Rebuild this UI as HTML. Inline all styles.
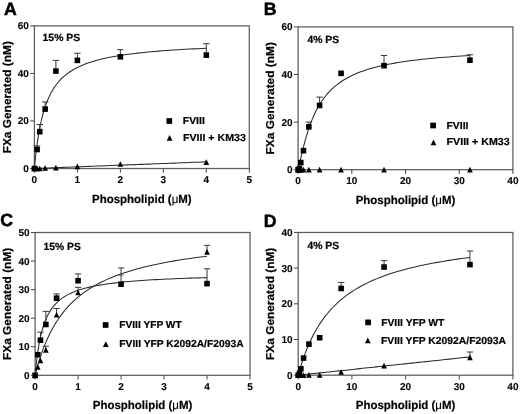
<!DOCTYPE html>
<html><head><meta charset="utf-8"><title>Figure</title>
<style>
html,body{margin:0;padding:0;background:#fff;}
svg{display:block;}
text{font-family:"Liberation Sans",Arial,sans-serif;font-weight:bold;fill:#000;stroke:#000;stroke-width:0.2px;text-rendering:geometricPrecision;}
.tk{font-size:10.0px;stroke-width:0.1px;}
.ax{font-size:11.5px;}
.ax2{font-size:11.7px;}
.pl{font-size:17.7px;stroke-width:0.5px;}
.tt{font-size:10.4px;}
.lg{font-size:10.2px;}
.mu{font-weight:normal;stroke-width:0.15px;}
</style></head>
<body>
<svg width="520" height="414" viewBox="0 0 520 414">
<rect width="520" height="414" fill="#fff"/>
<g>
<rect x="34.40" y="25.90" width="214.90" height="142.60" fill="none" stroke="#5c5c5c" stroke-width="1.25"/>
<line x1="34.40" y1="168.50" x2="34.40" y2="172.70" stroke="#444" stroke-width="1"/>
<text x="34.40" y="183.10" class="tk" text-anchor="middle">0</text>
<line x1="77.38" y1="168.50" x2="77.38" y2="172.70" stroke="#444" stroke-width="1"/>
<text x="77.38" y="183.10" class="tk" text-anchor="middle">1</text>
<line x1="120.36" y1="168.50" x2="120.36" y2="172.70" stroke="#444" stroke-width="1"/>
<text x="120.36" y="183.10" class="tk" text-anchor="middle">2</text>
<line x1="163.34" y1="168.50" x2="163.34" y2="172.70" stroke="#444" stroke-width="1"/>
<text x="163.34" y="183.10" class="tk" text-anchor="middle">3</text>
<line x1="206.32" y1="168.50" x2="206.32" y2="172.70" stroke="#444" stroke-width="1"/>
<text x="206.32" y="183.10" class="tk" text-anchor="middle">4</text>
<line x1="249.30" y1="168.50" x2="249.30" y2="172.70" stroke="#444" stroke-width="1"/>
<text x="249.30" y="183.10" class="tk" text-anchor="middle">5</text>
<line x1="30.20" y1="168.50" x2="34.40" y2="168.50" stroke="#444" stroke-width="1"/>
<text x="28.80" y="172.00" class="tk" text-anchor="end">0</text>
<line x1="30.20" y1="120.97" x2="34.40" y2="120.97" stroke="#444" stroke-width="1"/>
<text x="28.80" y="124.47" class="tk" text-anchor="end">20</text>
<line x1="30.20" y1="73.43" x2="34.40" y2="73.43" stroke="#444" stroke-width="1"/>
<text x="28.80" y="76.93" class="tk" text-anchor="end">40</text>
<line x1="30.20" y1="25.90" x2="34.40" y2="25.90" stroke="#444" stroke-width="1"/>
<text x="28.80" y="29.40" class="tk" text-anchor="end">60</text>
<text x="4" y="15.4" class="pl">A</text>
<text x="42.6" y="41.3" class="tt" textLength="37.5" lengthAdjust="spacingAndGlyphs">15% PS</text>
<text transform="translate(11.2,97.20) rotate(-90)" class="ax" text-anchor="middle" textLength="112.3" lengthAdjust="spacingAndGlyphs">FXa Generated (nM)</text>
<text x="141.85" y="202.5" class="ax2" text-anchor="middle" textLength="99.6" lengthAdjust="spacingAndGlyphs">Phospholipid (<tspan class="mu">μ</tspan>M)</text>
<polyline points="34.40,168.50 34.43,168.20 34.51,167.32 34.64,165.88 34.83,163.92 35.07,161.48 35.37,158.63 35.72,155.43 36.12,151.94 36.58,148.24 37.09,144.38 37.65,140.42 38.27,136.42 38.94,132.41 39.67,128.44 40.44,124.55 41.28,120.75 42.16,117.06 43.10,113.50 44.10,110.08 45.14,106.80 46.25,103.67 47.40,100.69 48.61,97.85 49.87,95.16 51.19,92.61 52.56,90.20 53.98,87.91 55.46,85.75 56.99,83.71 58.58,81.78 60.21,79.96 61.91,78.24 63.65,76.61 65.45,75.07 67.31,73.62 69.21,72.25 71.17,70.94 73.19,69.71 75.26,68.55 77.38,67.44 79.56,66.40 81.79,65.41 84.07,64.47 86.41,63.57 88.80,62.73 91.24,61.92 93.74,61.15 96.29,60.42 98.90,59.73 101.56,59.07 104.27,58.44 107.04,57.84 109.86,57.27 112.73,56.72 115.66,56.20 118.64,55.70 121.68,55.22 124.77,54.77 127.91,54.33 131.11,53.91 134.36,53.51 137.66,53.13 141.02,52.76 144.43,52.40 147.89,52.07 151.41,51.74 154.99,51.43 158.61,51.13 162.29,50.84 166.03,50.56 169.81,50.29 173.66,50.03 177.55,49.78 181.50,49.54 185.50,49.31 189.56,49.09 193.67,48.88 197.83,48.67 202.05,48.47 206.32,48.28" fill="none" stroke="#2a2a2a" stroke-width="1.05"/>
<line x1="37.09" y1="149.49" x2="37.09" y2="145.92" stroke="#383838" stroke-width="1"/>
<line x1="33.89" y1="145.92" x2="40.29" y2="145.92" stroke="#383838" stroke-width="1"/>
<line x1="39.77" y1="131.66" x2="39.77" y2="124.53" stroke="#383838" stroke-width="1"/>
<line x1="36.57" y1="124.53" x2="42.97" y2="124.53" stroke="#383838" stroke-width="1"/>
<line x1="45.14" y1="109.08" x2="45.14" y2="101.95" stroke="#383838" stroke-width="1"/>
<line x1="41.94" y1="101.95" x2="48.34" y2="101.95" stroke="#383838" stroke-width="1"/>
<line x1="55.89" y1="71.06" x2="55.89" y2="60.36" stroke="#383838" stroke-width="1"/>
<line x1="52.69" y1="60.36" x2="59.09" y2="60.36" stroke="#383838" stroke-width="1"/>
<line x1="77.38" y1="60.36" x2="77.38" y2="53.23" stroke="#383838" stroke-width="1"/>
<line x1="74.18" y1="53.23" x2="80.58" y2="53.23" stroke="#383838" stroke-width="1"/>
<line x1="120.36" y1="56.80" x2="120.36" y2="49.67" stroke="#383838" stroke-width="1"/>
<line x1="117.16" y1="49.67" x2="123.56" y2="49.67" stroke="#383838" stroke-width="1"/>
<line x1="206.32" y1="55.13" x2="206.32" y2="43.73" stroke="#383838" stroke-width="1"/>
<line x1="203.12" y1="43.73" x2="209.52" y2="43.73" stroke="#383838" stroke-width="1"/>
<rect x="31.60" y="165.70" width="5.60" height="5.60" fill="#000"/>
<rect x="34.29" y="146.69" width="5.60" height="5.60" fill="#000"/>
<rect x="36.97" y="128.86" width="5.60" height="5.60" fill="#000"/>
<rect x="42.34" y="106.28" width="5.60" height="5.60" fill="#000"/>
<rect x="53.09" y="68.26" width="5.60" height="5.60" fill="#000"/>
<rect x="74.58" y="57.56" width="5.60" height="5.60" fill="#000"/>
<rect x="117.56" y="54.00" width="5.60" height="5.60" fill="#000"/>
<rect x="203.52" y="52.33" width="5.60" height="5.60" fill="#000"/>
<polyline points="34.40,168.50 34.43,168.50 34.51,168.50 34.64,168.49 34.83,168.48 35.07,168.47 35.37,168.46 35.72,168.45 36.12,168.43 36.58,168.42 37.09,168.40 37.65,168.37 38.27,168.35 38.94,168.32 39.67,168.30 40.44,168.27 41.28,168.23 42.16,168.20 43.10,168.16 44.10,168.12 45.14,168.08 46.25,168.04 47.40,168.00 48.61,167.95 49.87,167.90 51.19,167.85 52.56,167.80 53.98,167.74 55.46,167.68 56.99,167.63 58.58,167.56 60.21,167.50 61.91,167.44 63.65,167.37 65.45,167.30 67.31,167.23 69.21,167.15 71.17,167.08 73.19,167.00 75.26,166.92 77.38,166.84 79.56,166.75 81.79,166.67 84.07,166.58 86.41,166.49 88.80,166.39 91.24,166.30 93.74,166.20 96.29,166.10 98.90,166.00 101.56,165.90 104.27,165.80 107.04,165.69 109.86,165.58 112.73,165.47 115.66,165.35 118.64,165.24 121.68,165.12 124.77,165.00 127.91,164.88 131.11,164.76 134.36,164.63 137.66,164.50 141.02,164.37 144.43,164.24 147.89,164.11 151.41,163.97 154.99,163.83 158.61,163.69 162.29,163.55 166.03,163.41 169.81,163.26 173.66,163.11 177.55,162.96 181.50,162.81 185.50,162.65 189.56,162.49 193.67,162.34 197.83,162.17 202.05,162.01 206.32,161.85" fill="none" stroke="#2a2a2a" stroke-width="1.05"/>
<polygon points="34.40,165.65 31.55,171.35 37.25,171.35" fill="#000"/>
<polygon points="37.09,165.65 34.24,171.35 39.94,171.35" fill="#000"/>
<polygon points="39.77,165.65 36.92,171.35 42.62,171.35" fill="#000"/>
<polygon points="45.14,164.94 42.29,170.64 47.99,170.64" fill="#000"/>
<polygon points="55.89,164.70 53.04,170.40 58.74,170.40" fill="#000"/>
<polygon points="77.38,163.51 74.53,169.21 80.23,169.21" fill="#000"/>
<polygon points="120.36,161.13 117.51,166.83 123.21,166.83" fill="#000"/>
<polygon points="206.32,159.23 203.47,164.93 209.17,164.93" fill="#000"/>
<rect x="166.45" y="118.15" width="5.70" height="5.70" fill="#000"/>
<text x="182.8" y="124.4" class="lg" textLength="22.0" lengthAdjust="spacingAndGlyphs">FVIII</text>
<polygon points="169.60,134.90 166.70,140.70 172.50,140.70" fill="#000"/>
<text x="182.9" y="140.5" class="lg" textLength="63.0" lengthAdjust="spacingAndGlyphs">FVIII + KM33</text>
</g>
<g>
<rect x="298.10" y="26.90" width="214.80" height="142.80" fill="none" stroke="#5c5c5c" stroke-width="1.25"/>
<line x1="298.10" y1="169.70" x2="298.10" y2="173.90" stroke="#444" stroke-width="1"/>
<text x="298.10" y="184.30" class="tk" text-anchor="middle">0</text>
<line x1="351.80" y1="169.70" x2="351.80" y2="173.90" stroke="#444" stroke-width="1"/>
<text x="351.80" y="184.30" class="tk" text-anchor="middle">10</text>
<line x1="405.50" y1="169.70" x2="405.50" y2="173.90" stroke="#444" stroke-width="1"/>
<text x="405.50" y="184.30" class="tk" text-anchor="middle">20</text>
<line x1="459.20" y1="169.70" x2="459.20" y2="173.90" stroke="#444" stroke-width="1"/>
<text x="459.20" y="184.30" class="tk" text-anchor="middle">30</text>
<line x1="512.90" y1="169.70" x2="512.90" y2="173.90" stroke="#444" stroke-width="1"/>
<text x="512.90" y="184.30" class="tk" text-anchor="middle">40</text>
<line x1="293.90" y1="169.70" x2="298.10" y2="169.70" stroke="#444" stroke-width="1"/>
<text x="292.50" y="173.20" class="tk" text-anchor="end">0</text>
<line x1="293.90" y1="122.10" x2="298.10" y2="122.10" stroke="#444" stroke-width="1"/>
<text x="292.50" y="125.60" class="tk" text-anchor="end">20</text>
<line x1="293.90" y1="74.50" x2="298.10" y2="74.50" stroke="#444" stroke-width="1"/>
<text x="292.50" y="78.00" class="tk" text-anchor="end">40</text>
<line x1="293.90" y1="26.90" x2="298.10" y2="26.90" stroke="#444" stroke-width="1"/>
<text x="292.50" y="30.40" class="tk" text-anchor="end">60</text>
<text x="263.7" y="15.4" class="pl">B</text>
<text x="307.5" y="42.7" class="tt" textLength="31.7" lengthAdjust="spacingAndGlyphs">4% PS</text>
<text transform="translate(273.5,98.30) rotate(-90)" class="ax" text-anchor="middle" textLength="112.3" lengthAdjust="spacingAndGlyphs">FXa Generated (nM)</text>
<text x="405.50" y="204.0" class="ax2" text-anchor="middle" textLength="99.6" lengthAdjust="spacingAndGlyphs">Phospholipid (<tspan class="mu">μ</tspan>M)</text>
<polyline points="298.10,169.70 298.13,169.64 298.21,169.39 298.34,168.92 298.53,168.19 298.77,167.19 299.07,165.93 299.42,164.39 299.82,162.60 300.27,160.55 300.79,158.27 301.35,155.79 301.97,153.12 302.64,150.29 303.36,147.34 304.14,144.28 304.97,141.16 305.86,137.98 306.80,134.78 307.79,131.59 308.84,128.41 309.94,125.27 311.10,122.18 312.30,119.16 313.57,116.21 314.88,113.35 316.25,110.57 317.67,107.89 319.15,105.31 320.68,102.83 322.27,100.45 323.90,98.16 325.59,95.98 327.34,93.89 329.14,91.89 330.99,89.99 332.90,88.17 334.86,86.44 336.87,84.80 338.94,83.23 341.06,81.73 343.23,80.31 345.46,78.96 347.75,77.67 350.08,76.45 352.47,75.28 354.91,74.17 357.41,73.11 359.96,72.11 362.57,71.15 365.23,70.23 367.94,69.36 370.70,68.53 373.52,67.74 376.39,66.98 379.32,66.26 382.30,65.58 385.34,64.92 388.42,64.29 391.56,63.69 394.76,63.12 398.01,62.57 401.31,62.04 404.67,61.54 408.08,61.06 411.54,60.60 415.06,60.15 418.63,59.73 422.25,59.32 425.93,58.93 429.66,58.56 433.45,58.20 437.29,57.85 441.18,57.52 445.13,57.20 449.13,56.90 453.19,56.60 457.29,56.32 461.46,56.04 465.67,55.78 469.94,55.53" fill="none" stroke="#2a2a2a" stroke-width="1.05"/>
<line x1="308.84" y1="126.86" x2="308.84" y2="122.10" stroke="#383838" stroke-width="1"/>
<line x1="305.64" y1="122.10" x2="312.04" y2="122.10" stroke="#383838" stroke-width="1"/>
<line x1="319.58" y1="105.44" x2="319.58" y2="97.11" stroke="#383838" stroke-width="1"/>
<line x1="316.38" y1="97.11" x2="322.78" y2="97.11" stroke="#383838" stroke-width="1"/>
<line x1="384.02" y1="65.69" x2="384.02" y2="55.46" stroke="#383838" stroke-width="1"/>
<line x1="380.82" y1="55.46" x2="387.22" y2="55.46" stroke="#383838" stroke-width="1"/>
<line x1="469.94" y1="60.22" x2="469.94" y2="54.75" stroke="#383838" stroke-width="1"/>
<line x1="466.74" y1="54.75" x2="473.14" y2="54.75" stroke="#383838" stroke-width="1"/>
<rect x="295.30" y="166.90" width="5.60" height="5.60" fill="#000"/>
<rect x="296.64" y="165.71" width="5.60" height="5.60" fill="#000"/>
<rect x="297.99" y="159.76" width="5.60" height="5.60" fill="#000"/>
<rect x="300.67" y="147.86" width="5.60" height="5.60" fill="#000"/>
<rect x="306.04" y="124.06" width="5.60" height="5.60" fill="#000"/>
<rect x="316.78" y="102.64" width="5.60" height="5.60" fill="#000"/>
<rect x="338.26" y="70.51" width="5.60" height="5.60" fill="#000"/>
<rect x="381.22" y="62.89" width="5.60" height="5.60" fill="#000"/>
<rect x="467.14" y="57.42" width="5.60" height="5.60" fill="#000"/>
<polygon points="298.10,166.85 295.25,172.55 300.95,172.55" fill="#000"/>
<polygon points="299.44,166.85 296.59,172.55 302.29,172.55" fill="#000"/>
<polygon points="300.79,166.85 297.94,172.55 303.64,172.55" fill="#000"/>
<polygon points="303.47,166.85 300.62,172.55 306.32,172.55" fill="#000"/>
<polygon points="308.84,166.85 305.99,172.55 311.69,172.55" fill="#000"/>
<polygon points="319.58,166.85 316.73,172.55 322.43,172.55" fill="#000"/>
<polygon points="341.06,166.85 338.21,172.55 343.91,172.55" fill="#000"/>
<polygon points="384.02,166.85 381.17,172.55 386.87,172.55" fill="#000"/>
<polygon points="469.94,166.85 467.09,172.55 472.79,172.55" fill="#000"/>
<rect x="430.25" y="122.65" width="5.70" height="5.70" fill="#000"/>
<text x="446.5" y="128.8" class="lg" textLength="22.0" lengthAdjust="spacingAndGlyphs">FVIII</text>
<polygon points="433.50,139.50 430.60,145.30 436.40,145.30" fill="#000"/>
<text x="446.6" y="145.3" class="lg" textLength="63.0" lengthAdjust="spacingAndGlyphs">FVIII + KM33</text>
</g>
<g>
<rect x="35.10" y="232.50" width="214.90" height="142.80" fill="none" stroke="#5c5c5c" stroke-width="1.25"/>
<line x1="35.10" y1="375.30" x2="35.10" y2="379.50" stroke="#444" stroke-width="1"/>
<text x="35.10" y="389.90" class="tk" text-anchor="middle">0</text>
<line x1="78.08" y1="375.30" x2="78.08" y2="379.50" stroke="#444" stroke-width="1"/>
<text x="78.08" y="389.90" class="tk" text-anchor="middle">1</text>
<line x1="121.06" y1="375.30" x2="121.06" y2="379.50" stroke="#444" stroke-width="1"/>
<text x="121.06" y="389.90" class="tk" text-anchor="middle">2</text>
<line x1="164.04" y1="375.30" x2="164.04" y2="379.50" stroke="#444" stroke-width="1"/>
<text x="164.04" y="389.90" class="tk" text-anchor="middle">3</text>
<line x1="207.02" y1="375.30" x2="207.02" y2="379.50" stroke="#444" stroke-width="1"/>
<text x="207.02" y="389.90" class="tk" text-anchor="middle">4</text>
<line x1="250.00" y1="375.30" x2="250.00" y2="379.50" stroke="#444" stroke-width="1"/>
<text x="250.00" y="389.90" class="tk" text-anchor="middle">5</text>
<line x1="30.90" y1="375.30" x2="35.10" y2="375.30" stroke="#444" stroke-width="1"/>
<text x="29.50" y="378.80" class="tk" text-anchor="end">0</text>
<line x1="30.90" y1="346.74" x2="35.10" y2="346.74" stroke="#444" stroke-width="1"/>
<text x="29.50" y="350.24" class="tk" text-anchor="end">10</text>
<line x1="30.90" y1="318.18" x2="35.10" y2="318.18" stroke="#444" stroke-width="1"/>
<text x="29.50" y="321.68" class="tk" text-anchor="end">20</text>
<line x1="30.90" y1="289.62" x2="35.10" y2="289.62" stroke="#444" stroke-width="1"/>
<text x="29.50" y="293.12" class="tk" text-anchor="end">30</text>
<line x1="30.90" y1="261.06" x2="35.10" y2="261.06" stroke="#444" stroke-width="1"/>
<text x="29.50" y="264.56" class="tk" text-anchor="end">40</text>
<line x1="30.90" y1="232.50" x2="35.10" y2="232.50" stroke="#444" stroke-width="1"/>
<text x="29.50" y="236.00" class="tk" text-anchor="end">50</text>
<text x="0.2" y="226.4" class="pl">C</text>
<text x="43.6" y="249.6" class="tt" textLength="37.2" lengthAdjust="spacingAndGlyphs">15% PS</text>
<text transform="translate(11.2,303.90) rotate(-90)" class="ax" text-anchor="middle" textLength="112.3" lengthAdjust="spacingAndGlyphs">FXa Generated (nM)</text>
<text x="142.55" y="409.3" class="ax2" text-anchor="middle" textLength="99.6" lengthAdjust="spacingAndGlyphs">Phospholipid (<tspan class="mu">μ</tspan>M)</text>
<polyline points="35.10,375.30 35.13,374.99 35.21,374.09 35.34,372.62 35.53,370.63 35.77,368.18 36.07,365.35 36.42,362.21 36.82,358.85 37.28,355.33 37.79,351.72 38.35,348.08 38.97,344.46 39.64,340.89 40.37,337.42 41.14,334.06 41.98,330.84 42.86,327.76 43.80,324.83 44.80,322.05 45.84,319.42 46.95,316.94 48.10,314.61 49.31,312.42 50.57,310.36 51.89,308.43 53.26,306.62 54.68,304.92 56.16,303.33 57.69,301.84 59.28,300.43 60.91,299.12 62.61,297.89 64.35,296.73 66.15,295.64 68.01,294.61 69.91,293.65 71.87,292.75 73.89,291.89 75.96,291.09 78.08,290.33 80.26,289.61 82.49,288.93 84.77,288.29 87.11,287.69 89.50,287.12 91.94,286.57 94.44,286.06 96.99,285.57 99.60,285.11 102.26,284.67 104.97,284.25 107.74,283.85 110.56,283.47 113.43,283.11 116.36,282.76 119.34,282.43 122.38,282.12 125.47,281.82 128.61,281.53 131.81,281.26 135.06,281.00 138.36,280.75 141.72,280.51 145.13,280.28 148.59,280.06 152.11,279.85 155.69,279.64 159.31,279.45 162.99,279.26 166.73,279.08 170.51,278.91 174.36,278.74 178.25,278.58 182.20,278.43 186.20,278.28 190.26,278.14 194.37,278.00 198.53,277.87 202.75,277.74 207.02,277.61" fill="none" stroke="#2a2a2a" stroke-width="1.05"/>
<line x1="40.47" y1="340.17" x2="40.47" y2="332.17" stroke="#383838" stroke-width="1"/>
<line x1="37.27" y1="332.17" x2="43.67" y2="332.17" stroke="#383838" stroke-width="1"/>
<line x1="45.84" y1="324.46" x2="45.84" y2="311.33" stroke="#383838" stroke-width="1"/>
<line x1="42.64" y1="311.33" x2="49.05" y2="311.33" stroke="#383838" stroke-width="1"/>
<line x1="56.59" y1="298.19" x2="56.59" y2="293.90" stroke="#383838" stroke-width="1"/>
<line x1="53.39" y1="293.90" x2="59.79" y2="293.90" stroke="#383838" stroke-width="1"/>
<line x1="78.08" y1="280.77" x2="78.08" y2="273.91" stroke="#383838" stroke-width="1"/>
<line x1="74.88" y1="273.91" x2="81.28" y2="273.91" stroke="#383838" stroke-width="1"/>
<line x1="121.06" y1="284.19" x2="121.06" y2="267.91" stroke="#383838" stroke-width="1"/>
<line x1="117.86" y1="267.91" x2="124.26" y2="267.91" stroke="#383838" stroke-width="1"/>
<line x1="207.02" y1="283.62" x2="207.02" y2="268.77" stroke="#383838" stroke-width="1"/>
<line x1="203.82" y1="268.77" x2="210.22" y2="268.77" stroke="#383838" stroke-width="1"/>
<rect x="32.30" y="372.50" width="5.60" height="5.60" fill="#000"/>
<rect x="34.99" y="351.94" width="5.60" height="5.60" fill="#000"/>
<rect x="37.67" y="337.37" width="5.60" height="5.60" fill="#000"/>
<rect x="43.05" y="321.66" width="5.60" height="5.60" fill="#000"/>
<rect x="53.79" y="295.39" width="5.60" height="5.60" fill="#000"/>
<rect x="75.28" y="277.97" width="5.60" height="5.60" fill="#000"/>
<rect x="118.26" y="281.39" width="5.60" height="5.60" fill="#000"/>
<rect x="204.22" y="280.82" width="5.60" height="5.60" fill="#000"/>
<polyline points="35.10,375.30 35.13,375.19 35.21,374.87 35.34,374.35 35.53,373.61 35.77,372.68 36.07,371.55 36.42,370.25 36.82,368.77 37.28,367.14 37.79,365.36 38.35,363.44 38.97,361.40 39.64,359.26 40.37,357.02 41.14,354.70 41.98,352.32 42.86,349.87 43.80,347.39 44.80,344.88 45.84,342.34 46.95,339.79 48.10,337.25 49.31,334.70 50.57,332.18 51.89,329.67 53.26,327.19 54.68,324.74 56.16,322.32 57.69,319.95 59.28,317.62 60.91,315.33 62.61,313.10 64.35,310.91 66.15,308.78 68.01,306.70 69.91,304.67 71.87,302.69 73.89,300.77 75.96,298.90 78.08,297.09 80.26,295.32 82.49,293.61 84.77,291.95 87.11,290.34 89.50,288.77 91.94,287.26 94.44,285.79 96.99,284.37 99.60,282.99 102.26,281.66 104.97,280.36 107.74,279.11 110.56,277.90 113.43,276.72 116.36,275.59 119.34,274.48 122.38,273.42 125.47,272.38 128.61,271.38 131.81,270.42 135.06,269.48 138.36,268.57 141.72,267.69 145.13,266.83 148.59,266.01 152.11,265.20 155.69,264.43 159.31,263.67 162.99,262.94 166.73,262.23 170.51,261.55 174.36,260.88 178.25,260.23 182.20,259.60 186.20,258.99 190.26,258.40 194.37,257.83 198.53,257.27 202.75,256.73 207.02,256.20" fill="none" stroke="#2a2a2a" stroke-width="1.05"/>
<line x1="45.84" y1="349.88" x2="45.84" y2="346.17" stroke="#383838" stroke-width="1"/>
<line x1="42.64" y1="346.17" x2="49.05" y2="346.17" stroke="#383838" stroke-width="1"/>
<line x1="56.59" y1="314.75" x2="56.59" y2="308.47" stroke="#383838" stroke-width="1"/>
<line x1="53.39" y1="308.47" x2="59.79" y2="308.47" stroke="#383838" stroke-width="1"/>
<line x1="78.08" y1="292.48" x2="78.08" y2="287.34" stroke="#383838" stroke-width="1"/>
<line x1="74.88" y1="287.34" x2="81.28" y2="287.34" stroke="#383838" stroke-width="1"/>
<line x1="118.46" y1="275.05" x2="123.66" y2="275.05" stroke="#444" stroke-width="0.9"/>
<line x1="207.02" y1="251.92" x2="207.02" y2="245.35" stroke="#383838" stroke-width="1"/>
<line x1="203.82" y1="245.35" x2="210.22" y2="245.35" stroke="#383838" stroke-width="1"/>
<polygon points="35.10,372.45 32.25,378.15 37.95,378.15" fill="#000"/>
<polygon points="37.79,364.17 34.94,369.87 40.64,369.87" fill="#000"/>
<polygon points="40.47,357.60 37.62,363.30 43.32,363.30" fill="#000"/>
<polygon points="45.84,347.03 42.99,352.73 48.70,352.73" fill="#000"/>
<polygon points="56.59,311.90 53.74,317.60 59.44,317.60" fill="#000"/>
<polygon points="78.08,289.63 75.23,295.33 80.93,295.33" fill="#000"/>
<polygon points="207.02,249.07 204.17,254.77 209.87,254.77" fill="#000"/>
<rect x="102.75" y="322.15" width="5.70" height="5.70" fill="#000"/>
<text x="119.3" y="328.3" class="lg" textLength="62.3" lengthAdjust="spacingAndGlyphs">FVIII YFP WT</text>
<polygon points="105.80,341.30 102.90,347.10 108.70,347.10" fill="#000"/>
<text x="119.3" y="347.1" class="lg" textLength="124.3" lengthAdjust="spacingAndGlyphs">FVIII YFP K2092A/F2093A</text>
</g>
<g>
<rect x="298.20" y="232.45" width="214.70" height="142.75" fill="none" stroke="#5c5c5c" stroke-width="1.25"/>
<line x1="298.20" y1="375.20" x2="298.20" y2="379.40" stroke="#444" stroke-width="1"/>
<text x="298.20" y="389.80" class="tk" text-anchor="middle">0</text>
<line x1="351.88" y1="375.20" x2="351.88" y2="379.40" stroke="#444" stroke-width="1"/>
<text x="351.88" y="389.80" class="tk" text-anchor="middle">10</text>
<line x1="405.55" y1="375.20" x2="405.55" y2="379.40" stroke="#444" stroke-width="1"/>
<text x="405.55" y="389.80" class="tk" text-anchor="middle">20</text>
<line x1="459.22" y1="375.20" x2="459.22" y2="379.40" stroke="#444" stroke-width="1"/>
<text x="459.22" y="389.80" class="tk" text-anchor="middle">30</text>
<line x1="512.90" y1="375.20" x2="512.90" y2="379.40" stroke="#444" stroke-width="1"/>
<text x="512.90" y="389.80" class="tk" text-anchor="middle">40</text>
<line x1="294.00" y1="375.20" x2="298.20" y2="375.20" stroke="#444" stroke-width="1"/>
<text x="292.60" y="378.70" class="tk" text-anchor="end">0</text>
<line x1="294.00" y1="339.51" x2="298.20" y2="339.51" stroke="#444" stroke-width="1"/>
<text x="292.60" y="343.01" class="tk" text-anchor="end">10</text>
<line x1="294.00" y1="303.82" x2="298.20" y2="303.82" stroke="#444" stroke-width="1"/>
<text x="292.60" y="307.32" class="tk" text-anchor="end">20</text>
<line x1="294.00" y1="268.14" x2="298.20" y2="268.14" stroke="#444" stroke-width="1"/>
<text x="292.60" y="271.64" class="tk" text-anchor="end">30</text>
<line x1="294.00" y1="232.45" x2="298.20" y2="232.45" stroke="#444" stroke-width="1"/>
<text x="292.60" y="235.95" class="tk" text-anchor="end">40</text>
<text x="263.7" y="226.6" class="pl">D</text>
<text x="307.5" y="248.6" class="tt" textLength="31.7" lengthAdjust="spacingAndGlyphs">4% PS</text>
<text transform="translate(273.5,303.82) rotate(-90)" class="ax" text-anchor="middle" textLength="112.3" lengthAdjust="spacingAndGlyphs">FXa Generated (nM)</text>
<text x="405.55" y="409.2" class="ax2" text-anchor="middle" textLength="99.6" lengthAdjust="spacingAndGlyphs">Phospholipid (<tspan class="mu">μ</tspan>M)</text>
<polyline points="298.20,375.20 298.23,375.10 298.31,374.81 298.44,374.32 298.63,373.64 298.87,372.77 299.17,371.73 299.52,370.51 299.92,369.14 300.37,367.61 300.88,365.95 301.45,364.15 302.06,362.24 302.74,360.22 303.46,358.11 304.24,355.92 305.07,353.66 305.96,351.34 306.90,348.98 307.89,346.57 308.94,344.15 310.04,341.70 311.19,339.24 312.40,336.79 313.66,334.34 314.97,331.90 316.34,329.49 317.76,327.09 319.24,324.73 320.77,322.40 322.35,320.11 323.99,317.85 325.68,315.64 327.43,313.47 329.22,311.35 331.08,309.27 332.98,307.25 334.94,305.27 336.95,303.34 339.02,301.46 341.14,299.63 343.31,297.85 345.54,296.12 347.82,294.44 350.16,292.80 352.55,291.21 354.99,289.67 357.48,288.17 360.03,286.71 362.64,285.30 365.29,283.93 368.00,282.61 370.77,281.32 373.59,280.07 376.46,278.86 379.38,277.68 382.36,276.54 385.40,275.44 388.48,274.37 391.62,273.33 394.81,272.32 398.06,271.35 401.36,270.40 404.72,269.48 408.13,268.59 411.59,267.73 415.10,266.89 418.67,266.08 422.30,265.29 425.97,264.52 429.70,263.78 433.49,263.06 437.33,262.36 441.22,261.68 445.16,261.01 449.16,260.37 453.21,259.75 457.32,259.14 461.48,258.56 465.69,257.98 469.96,257.43" fill="none" stroke="#2a2a2a" stroke-width="1.05"/>
<line x1="341.14" y1="288.48" x2="341.14" y2="282.41" stroke="#383838" stroke-width="1"/>
<line x1="337.94" y1="282.41" x2="344.34" y2="282.41" stroke="#383838" stroke-width="1"/>
<line x1="384.08" y1="267.07" x2="384.08" y2="260.64" stroke="#383838" stroke-width="1"/>
<line x1="380.88" y1="260.64" x2="387.28" y2="260.64" stroke="#383838" stroke-width="1"/>
<line x1="469.96" y1="264.57" x2="469.96" y2="251.01" stroke="#383838" stroke-width="1"/>
<line x1="466.76" y1="251.01" x2="473.16" y2="251.01" stroke="#383838" stroke-width="1"/>
<rect x="295.40" y="372.40" width="5.60" height="5.60" fill="#000"/>
<rect x="296.74" y="370.62" width="5.60" height="5.60" fill="#000"/>
<rect x="298.08" y="365.98" width="5.60" height="5.60" fill="#000"/>
<rect x="300.77" y="355.27" width="5.60" height="5.60" fill="#000"/>
<rect x="306.13" y="341.35" width="5.60" height="5.60" fill="#000"/>
<rect x="316.87" y="334.93" width="5.60" height="5.60" fill="#000"/>
<rect x="338.34" y="285.68" width="5.60" height="5.60" fill="#000"/>
<rect x="381.28" y="264.27" width="5.60" height="5.60" fill="#000"/>
<rect x="467.16" y="261.77" width="5.60" height="5.60" fill="#000"/>
<polyline points="298.20,375.20 298.23,375.20 298.31,375.19 298.44,375.17 298.63,375.15 298.87,375.13 299.17,375.10 299.52,375.06 299.92,375.02 300.37,374.97 300.88,374.91 301.45,374.85 302.06,374.79 302.74,374.72 303.46,374.64 304.24,374.56 305.07,374.47 305.96,374.37 306.90,374.27 307.89,374.17 308.94,374.06 310.04,373.94 311.19,373.82 312.40,373.69 313.66,373.56 314.97,373.42 316.34,373.27 317.76,373.12 319.24,372.96 320.77,372.80 322.35,372.63 323.99,372.46 325.68,372.28 327.43,372.09 329.22,371.90 331.08,371.70 332.98,371.50 334.94,371.29 336.95,371.08 339.02,370.86 341.14,370.63 343.31,370.40 345.54,370.16 347.82,369.92 350.16,369.67 352.55,369.42 354.99,369.16 357.48,368.89 360.03,368.62 362.64,368.35 365.29,368.06 368.00,367.77 370.77,367.48 373.59,367.18 376.46,366.87 379.38,366.56 382.36,366.25 385.40,365.92 388.48,365.60 391.62,365.26 394.81,364.92 398.06,364.58 401.36,364.23 404.72,363.87 408.13,363.51 411.59,363.14 415.10,362.76 418.67,362.38 422.30,362.00 425.97,361.61 429.70,361.21 433.49,360.81 437.33,360.40 441.22,359.99 445.16,359.57 449.16,359.14 453.21,358.71 457.32,358.27 461.48,357.83 465.69,357.38 469.96,356.93" fill="none" stroke="#2a2a2a" stroke-width="1.05"/>
<line x1="469.96" y1="357.36" x2="469.96" y2="352.00" stroke="#383838" stroke-width="1"/>
<line x1="466.76" y1="352.00" x2="473.16" y2="352.00" stroke="#383838" stroke-width="1"/>
<polygon points="298.20,372.35 295.35,378.05 301.05,378.05" fill="#000"/>
<polygon points="299.54,372.35 296.69,378.05 302.39,378.05" fill="#000"/>
<polygon points="300.88,372.35 298.03,378.05 303.73,378.05" fill="#000"/>
<polygon points="303.57,372.35 300.72,378.05 306.42,378.05" fill="#000"/>
<polygon points="308.94,371.99 306.08,377.69 311.79,377.69" fill="#000"/>
<polygon points="319.67,371.99 316.82,377.69 322.52,377.69" fill="#000"/>
<polygon points="341.14,369.14 338.29,374.84 343.99,374.84" fill="#000"/>
<polygon points="384.08,362.71 381.23,368.41 386.93,368.41" fill="#000"/>
<polygon points="469.96,354.51 467.11,360.21 472.81,360.21" fill="#000"/>
<rect x="365.25" y="319.55" width="5.70" height="5.70" fill="#000"/>
<text x="381.2" y="325.8" class="lg" textLength="63.2" lengthAdjust="spacingAndGlyphs">FVIII YFP WT</text>
<polygon points="367.80,337.50 364.90,343.30 370.70,343.30" fill="#000"/>
<text x="381.0" y="343.5" class="lg" textLength="125.0" lengthAdjust="spacingAndGlyphs">FVIII YFP K2092A/F2093A</text>
</g>
</svg>
</body></html>
